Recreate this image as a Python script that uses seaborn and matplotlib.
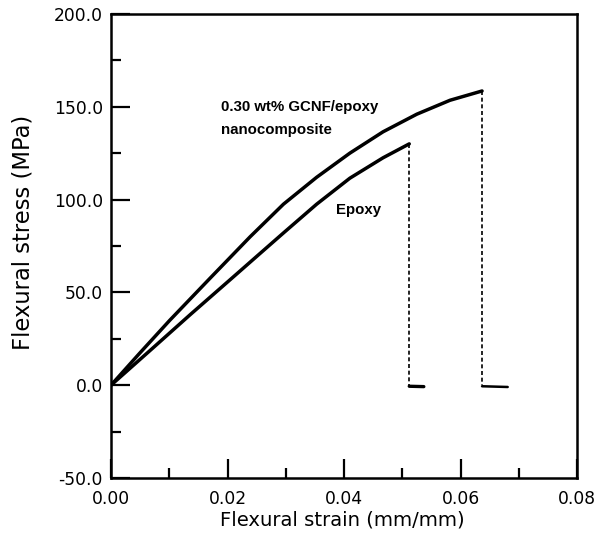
import numpy as np
import pandas as pd
import seaborn as sns
import matplotlib.pyplot as plt
from matplotlib.ticker import MultipleLocator, FormatStrFormatter

# curve values
comp_strain = [0.0, 0.0050, 0.0101, 0.0170, 0.0239, 0.0296, 0.0353, 0.0410,
               0.0467, 0.0525, 0.0582, 0.0637]
comp_stress = [0.0, 17.5, 35.0, 57.6, 80.0, 97.5, 112.0, 125.0,
               136.5, 146.0, 153.5, 158.5]
epoxy_strain = [0.0, 0.0070, 0.0136, 0.0207, 0.0256, 0.0296, 0.0353, 0.0410,
                0.0467, 0.0512]
epoxy_stress = [0.0, 19.5, 38.0, 57.5, 71.0, 82.0, 97.5, 111.5,
                122.5, 130.0]

# after failure: stress drops to zero, short residual trace
comp_break = 0.0637
comp_tail_end = 0.0681
epoxy_break = 0.0512
epoxy_tail_end = 0.0537

df = pd.concat([
    pd.DataFrame({"strain": comp_strain, "stress": comp_stress, "sample": "comp"}),
    pd.DataFrame({"strain": epoxy_strain, "stress": epoxy_stress, "sample": "epoxy"}),
])

sns.set_style("ticks")
plt.rcParams['font.family'] = ['DejaVu Sans']
plt.rcParams['text.color'] = 'black'
plt.rcParams['axes.labelcolor'] = 'black'
plt.rcParams['xtick.color'] = 'black'
plt.rcParams['ytick.color'] = 'black'

fig = plt.figure(figsize=(5.97, 5.37), dpi=100)
ax = fig.add_axes([0.186, 0.110, 0.7805, 0.864])

sns.lineplot(data=df, x="strain", y="stress", units="sample", estimator=None,
             color="black", linewidth=2.5, sort=False, ax=ax)

# dashed drops at failure
dash = (0, (2.4, 1.6))
ax.plot([comp_break, comp_break], [comp_stress[-1], 0], color="black", linestyle=dash, linewidth=1.2)
ax.plot([epoxy_break, epoxy_break], [epoxy_stress[-1], 0], color="black", linestyle=dash, linewidth=1.2)
ax.plot([comp_break, comp_tail_end], [-0.6, -1.0], color="black", linewidth=1.8)
ax.plot([epoxy_break, epoxy_tail_end], [-0.6, -0.8], color="black", linewidth=2.4)

bold = dict(fontsize=10.8, fontweight="bold", va="baseline", family=["Liberation Sans", "DejaVu Sans"])
ax.text(0.0188, 147.8, "0.30 wt% GCNF/epoxy", **bold)
ax.text(0.0188, 135.2, "nanocomposite", **bold)
ax.text(0.0386, 92.1, "Epoxy", **bold)

ax.set_xlim(0, 0.08)
ax.set_ylim(-50, 200)
ax.xaxis.set_major_locator(MultipleLocator(0.02))
ax.xaxis.set_minor_locator(MultipleLocator(0.01))
ax.yaxis.set_major_locator(MultipleLocator(50))
ax.yaxis.set_minor_locator(MultipleLocator(25))
ax.xaxis.set_major_formatter(FormatStrFormatter("%.2f"))
ax.yaxis.set_major_formatter(FormatStrFormatter("%.1f"))
ax.tick_params(which="major", direction="in", length=14, width=1.6, labelsize=12.3,
               top=False, right=False)
ax.tick_params(which="minor", direction="in", length=7, width=1.6, top=False, right=False)
ax.tick_params(axis="x", which="major", pad=9)
ax.tick_params(axis="y", which="major", pad=5.8)
for s in ax.spines.values():
    s.set_linewidth(1.8)
    s.set_color("black")

ax.set_xlabel("Flexural strain (mm/mm)", fontsize=14.1, va="center")
ax.set_ylabel("Flexural stress (MPa)", fontsize=16.3, va="center")
ax.xaxis.set_label_coords(0.497, -0.0905)
ax.yaxis.set_label_coords(-0.190, 0.530)

fig.savefig("out.png", dpi=100)
